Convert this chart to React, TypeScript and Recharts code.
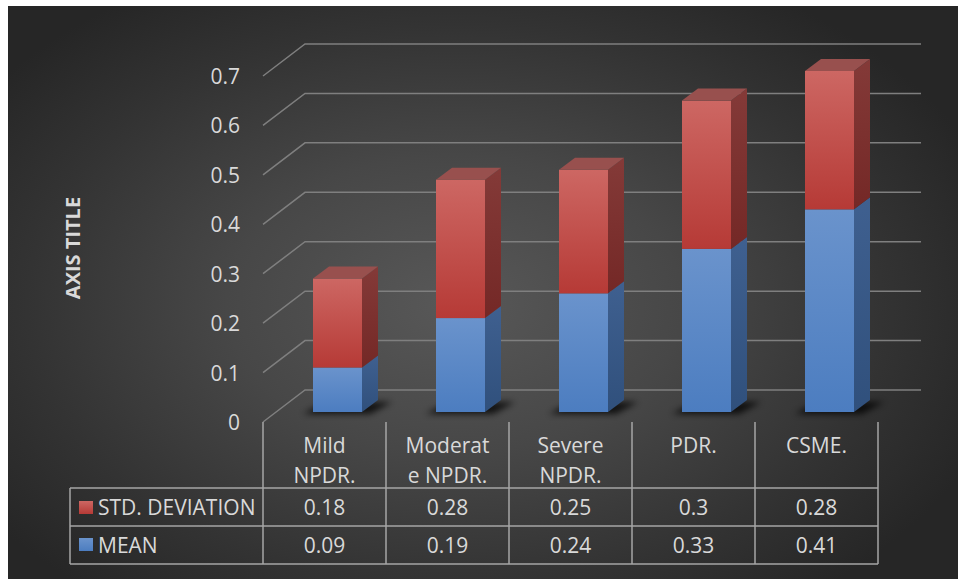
import { Bar, BarChart, CartesianGrid, XAxis, YAxis } from "recharts";

const CATEGORIES = ["Mild NPDR.", "Moderate NPDR.", "Severe NPDR.", "PDR.", "CSME."];
// wrapped header text for the data table
const CATEGORY_LINES = [
  ["Mild", "NPDR."],
  ["Moderat", "e NPDR."],
  ["Severe", "NPDR."],
  ["PDR."],
  ["CSME."],
];
const MEAN = [0.09, 0.19, 0.24, 0.33, 0.41];
const STD_DEVIATION = [0.18, 0.28, 0.25, 0.3, 0.28];
const Y_TICKS = [0, 0.1, 0.2, 0.3, 0.4, 0.5, 0.6, 0.7];

const data = CATEGORIES.map((name, i) => ({
  name,
  mean: MEAN[i],
  std: STD_DEVIATION[i],
}));

const W = 950;
const H = 573;
const MARGIN = { top: 60, right: 67, bottom: 15, left: 0 };
const Y_AXIS_W = 268;
const X_AXIS_H = 152;

// oblique 3D offsets
const FRONT = { dx: -13, dy: 10 };
const BACK = { dx: 29, dy: -22 };
const DEPTH = { dx: 16, dy: -12 };
const BAND = 123;

const FONT = "'Open Sans', sans-serif";
const TEXT = "#d9d9d9";
const GRID = "#7f7f7f";
const TABLE = "#a6a6a6";

const TABLE_TOP = 416;
const ROW1 = 482;
const ROW2 = 520;
const TABLE_BOTTOM = 558;
const TABLE_LEFT = 62;
const TABLE_RIGHT = Y_AXIS_W + FRONT.dx + BAND * CATEGORIES.length;

function GridLine(props: any) {
  const { x1, x2, y1 } = props;
  const pts = `${x1 + FRONT.dx},${y1 + FRONT.dy} ${x1 + BACK.dx},${y1 + BACK.dy} ${x2 + BACK.dx + 1},${y1 + BACK.dy}`;
  return <polyline key={`g-${y1}`} points={pts} fill="none" stroke={GRID} strokeWidth={1.5} />;
}

function YTick(props: any) {
  const { y, payload } = props;
  return (
    <text
      x={232}
      y={y + FRONT.dy}
      textAnchor="end"
      dominantBaseline="central"
      fill={TEXT}
      fontSize={21}
      fontFamily={FONT}
    >
      {payload.value}
    </text>
  );
}

function TableColumn(props: any) {
  const { x, index } = props;
  const cx = x + FRONT.dx;
  const left = cx - BAND / 2;
  const lines = CATEGORY_LINES[index] ?? [];
  const txt = { fill: TEXT, fontSize: 21, fontFamily: FONT, textAnchor: "middle" as const, dominantBaseline: "central" as const };
  return (
    <g>
      <line x1={left} y1={TABLE_TOP} x2={left} y2={TABLE_BOTTOM} stroke={TABLE} strokeWidth={1.5} />
      {index === CATEGORIES.length - 1 && (
        <line x1={left + BAND} y1={TABLE_TOP} x2={left + BAND} y2={TABLE_BOTTOM} stroke={TABLE} strokeWidth={1.5} />
      )}
      {lines.map((l, i) => (
        <text key={i} x={cx} y={439 + i * 30} {...txt}>
          {l}
        </text>
      ))}
      <text x={cx} y={(ROW1 + ROW2) / 2} {...txt}>
        {STD_DEVIATION[index]}
      </text>
      <text x={cx} y={(ROW2 + TABLE_BOTTOM) / 2} {...txt}>
        {MEAN[index]}
      </text>
    </g>
  );
}

function MeanBar(props: any) {
  const { x, y, width, height } = props;
  const yb = y + height;
  return (
    <g>
      <polygon
        points={`${x - 10},${yb + 2} ${x + width + 8},${yb + 2} ${x + width + 30},${yb - 10} ${x + 12},${yb - 10}`}
        fill="#000"
        opacity={0.75}
        filter="url(#barShadow)"
      />
      <rect x={x} y={y} width={width} height={height} fill="url(#blueFront)" />
      <polygon
        points={`${x + width},${y} ${x + width + DEPTH.dx},${y + DEPTH.dy} ${x + width + DEPTH.dx},${yb + DEPTH.dy} ${x + width},${yb}`}
        fill="url(#blueSide)"
      />
    </g>
  );
}

function StdBar(props: any) {
  const { x, y, width, height } = props;
  const yb = y + height;
  return (
    <g>
      <rect x={x} y={y} width={width} height={height} fill="url(#redFront)" />
      <polygon
        points={`${x + width},${y} ${x + width + DEPTH.dx},${y + DEPTH.dy} ${x + width + DEPTH.dx},${yb + DEPTH.dy} ${x + width},${yb}`}
        fill="url(#redSide)"
      />
      <polygon
        points={`${x},${y} ${x + DEPTH.dx},${y + DEPTH.dy} ${x + width + DEPTH.dx},${y + DEPTH.dy} ${x + width},${y}`}
        fill="#98504e"
      />
    </g>
  );
}

export default function App() {
  return (
    <div
      style={{
        position: "absolute",
        left: 8,
        top: 6,
        width: W,
        height: H,
        background:
          "radial-gradient(ellipse 60% 65% at 47% 52%, #585858 0%, #474747 40%, #333 75%, #262626 100%)",
      }}
    >
      <BarChart width={W} height={H} data={data} margin={MARGIN} barSize={49}>
        <defs>
          <linearGradient id="redFront" x1="0" y1="0" x2="0" y2="1">
            <stop offset="0%" stopColor="#cd6763" />
            <stop offset="100%" stopColor="#b63a36" />
          </linearGradient>
          <linearGradient id="redSide" x1="0" y1="0" x2="0" y2="1">
            <stop offset="0%" stopColor="#843a38" />
            <stop offset="100%" stopColor="#742826" />
          </linearGradient>
          <linearGradient id="blueFront" x1="0" y1="0" x2="0" y2="1">
            <stop offset="0%" stopColor="#6a93cc" />
            <stop offset="100%" stopColor="#4c7dc0" />
          </linearGradient>
          <linearGradient id="blueSide" x1="0" y1="0" x2="0" y2="1">
            <stop offset="0%" stopColor="#3f6090" />
            <stop offset="100%" stopColor="#30507c" />
          </linearGradient>
          <filter id="barShadow" x="-50%" y="-100%" width="200%" height="300%">
            <feGaussianBlur stdDeviation="3" />
          </filter>
        </defs>
        <CartesianGrid vertical={false} horizontal={GridLine} />
        <YAxis
          width={Y_AXIS_W}
          domain={[0, 0.7]}
          ticks={Y_TICKS}
          axisLine={false}
          tickLine={false}
          tick={YTick}
        />
        <XAxis
          dataKey="name"
          height={X_AXIS_H}
          axisLine={false}
          tickLine={false}
          interval={0}
          tick={TableColumn}
        />
        <Bar dataKey="mean" stackId="a" shape={MeanBar} isAnimationActive={false} />
        <Bar dataKey="std" stackId="a" shape={StdBar} isAnimationActive={false} />
        <g>
          <text
            x={64}
            y={242}
            transform="rotate(-90, 64, 242)"
            textAnchor="middle"
            dominantBaseline="central"
            fill={TEXT}
            fontSize={20}
            fontWeight={700}
            fontFamily={FONT}
          >
            AXIS TITLE
          </text>
          <line x1={TABLE_LEFT} y1={ROW1} x2={TABLE_RIGHT} y2={ROW1} stroke={TABLE} strokeWidth={1.5} />
          <line x1={TABLE_LEFT} y1={ROW2} x2={TABLE_RIGHT} y2={ROW2} stroke={TABLE} strokeWidth={1.5} />
          <line x1={TABLE_LEFT} y1={TABLE_BOTTOM} x2={TABLE_RIGHT} y2={TABLE_BOTTOM} stroke={TABLE} strokeWidth={1.5} />
          <line x1={TABLE_LEFT} y1={ROW1} x2={TABLE_LEFT} y2={TABLE_BOTTOM} stroke={TABLE} strokeWidth={1.5} />
          <rect x={71} y={495} width={14} height={13} fill="url(#redFront)" />
          <rect x={71} y={532} width={14} height={13} fill="url(#blueFront)" />
          <text x={90} y={(ROW1 + ROW2) / 2} dominantBaseline="central" fill={TEXT} fontSize={21} fontFamily={FONT}>
            STD. DEVIATION
          </text>
          <text x={90} y={(ROW2 + TABLE_BOTTOM) / 2} dominantBaseline="central" fill={TEXT} fontSize={21} fontFamily={FONT}>
            MEAN
          </text>
        </g>
      </BarChart>
    </div>
  );
}
